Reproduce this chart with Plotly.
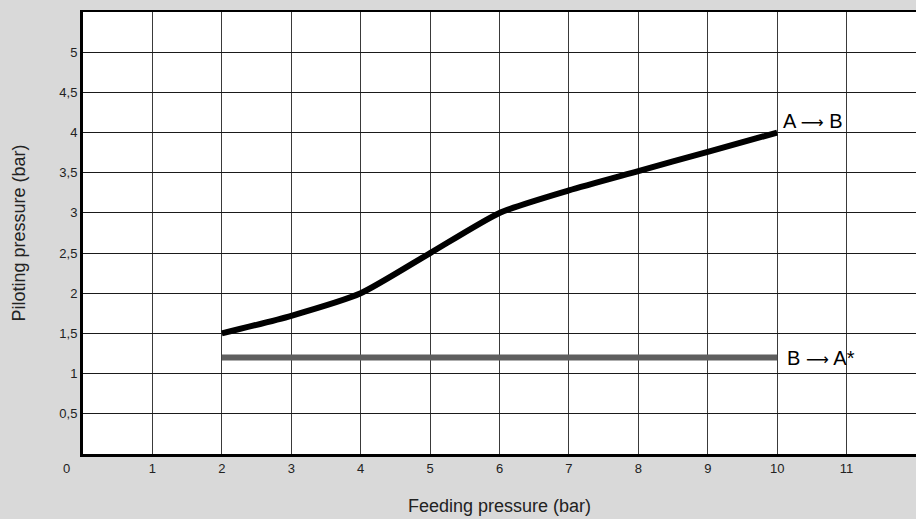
import plotly.graph_objects as go

feeding_ab = [2, 3, 4, 5, 6, 7, 8, 9, 10]
piloting_ab = [1.5, 1.72, 2.0, 2.5, 3.0, 3.28, 3.52, 3.76, 4.0]
feeding_ba = [2, 10]
piloting_ba = [1.2, 1.2]
x_ticks = [1, 2, 3, 4, 5, 6, 7, 8, 9, 10, 11]
y_ticks = [0.5, 1, 1.5, 2, 2.5, 3, 3.5, 4, 4.5, 5]
y_labels = [str(v).replace(".", ",") for v in y_ticks]

FONT = "Liberation Sans, Arial"
ARROW = '<span style="font-family:DejaVu Sans;font-size:16px">⟶</span>'

fig = go.Figure()
fig.add_trace(go.Scatter(x=feeding_ba, y=piloting_ba, mode="lines",
                         line=dict(color="#5f5f5f", width=6), showlegend=False))
fig.add_trace(go.Scatter(x=feeding_ab, y=piloting_ab, mode="lines",
                         line=dict(color="black", width=6, shape="spline", smoothing=0.6),
                         showlegend=False))

fig.add_annotation(x=10, y=4.0, text="A " + ARROW + " B", showarrow=False, xanchor="left",
                   yanchor="bottom", xshift=4, yshift=-1,
                   font=dict(family=FONT, size=20, color="black"))
fig.add_annotation(x=10, y=1.2, text="B " + ARROW + " A*", showarrow=False, xanchor="left",
                   yanchor="middle", xshift=8,
                   font=dict(family=FONT, size=20, color="black"))
fig.add_annotation(x=0, y=0, xref="x", yref="y", text="0", showarrow=False,
                   xanchor="center", yanchor="top", xshift=-17, yshift=-5,
                   font=dict(family=FONT, size=13, color="#222"))

fig.update_layout(
    width=916, height=519,
    paper_bgcolor="#d9d9d9", plot_bgcolor="white",
    margin=dict(l=83, r=0, t=12, b=65),
    font=dict(family=FONT, size=13, color="#222"),
    xaxis=dict(range=[0, 12], tickvals=x_ticks, ticktext=[str(v) for v in x_ticks],
               showgrid=True, gridcolor="#3a3a3a", gridwidth=1, zeroline=False,
               showline=True, linecolor="black", linewidth=3, mirror=False,
               ticks="", title=dict(text="Feeding pressure (bar)", font=dict(size=18), standoff=25),
               fixedrange=True),
    yaxis=dict(range=[0, 5.5], tickvals=y_ticks, ticktext=y_labels,
               showgrid=True, gridcolor="#1a1a1a", gridwidth=1, zeroline=False,
               showline=True, linecolor="black", linewidth=3,
               ticks="", ticklen=0, title=dict(text="Piloting pressure (bar)", font=dict(size=18), standoff=30),
               fixedrange=True),
    xaxis2=dict(overlaying="x", side="top", range=[0, 12], showline=True,
                linecolor="black", linewidth=2, showticklabels=False, showgrid=False,
                zeroline=False),
)
fig.add_trace(go.Scatter(x=[0], y=[0], xaxis="x2", mode="markers",
                         marker=dict(opacity=0), showlegend=False, hoverinfo="skip"))

fig.write_html("out.html", config={"displayModeBar": False},
               post_script="document.body.style.margin='0';document.body.style.overflow='hidden';")
